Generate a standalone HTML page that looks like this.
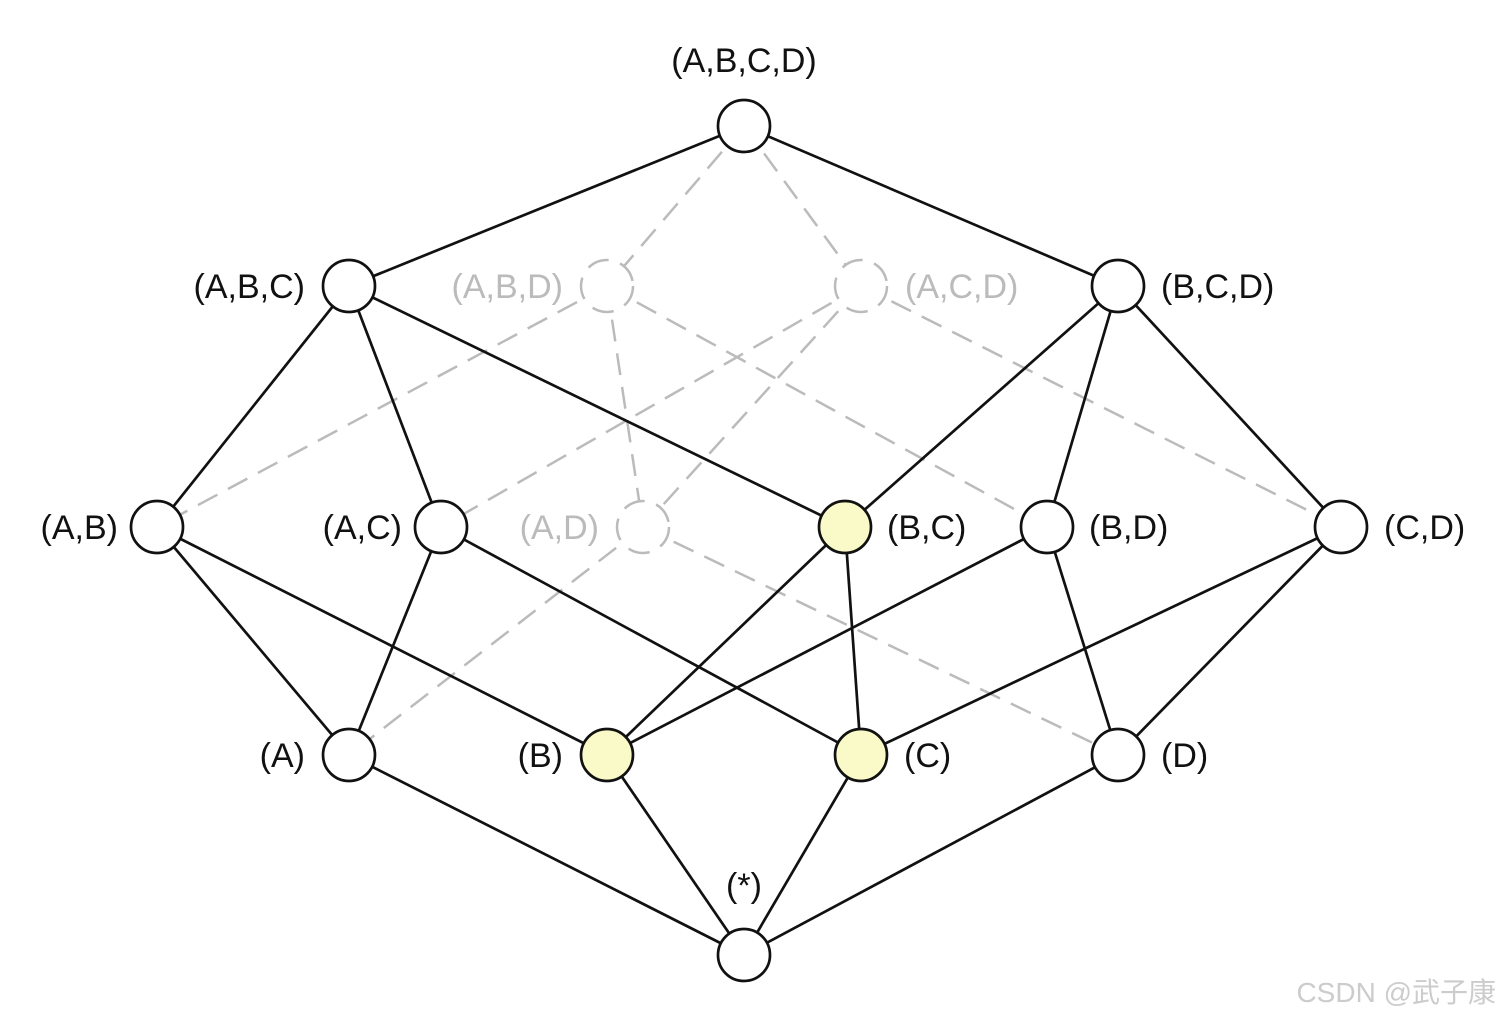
<!DOCTYPE html>
<html><head><meta charset="utf-8"><style>
html,body{margin:0;padding:0;background:#fff;}
svg{display:block;}
text{font-family:"Liberation Sans",sans-serif;font-size:34px;}
</style></head><body>
<svg width="1500" height="1018" viewBox="0 0 1500 1018" xmlns="http://www.w3.org/2000/svg">
<g stroke="#bbb" stroke-width="2.5" stroke-dasharray="22,12" fill="none">
<line x1="744" y1="126" x2="607" y2="286"/>
<line x1="744" y1="126" x2="861" y2="286"/>
<line x1="607" y1="286" x2="157" y2="527"/>
<line x1="607" y1="286" x2="643" y2="527"/>
<line x1="607" y1="286" x2="1047" y2="527"/>
<line x1="861" y1="286" x2="441" y2="527"/>
<line x1="861" y1="286" x2="643" y2="527"/>
<line x1="861" y1="286" x2="1341" y2="527"/>
<line x1="643" y1="527" x2="349" y2="755"/>
<line x1="643" y1="527" x2="1118" y2="755"/>
</g>
<g stroke="#111" stroke-width="2.7">
<line x1="744" y1="126" x2="349" y2="286"/>
<line x1="744" y1="126" x2="1118" y2="286"/>
<line x1="349" y1="286" x2="157" y2="527"/>
<line x1="349" y1="286" x2="441" y2="527"/>
<line x1="349" y1="286" x2="845" y2="527"/>
<line x1="1118" y1="286" x2="845" y2="527"/>
<line x1="1118" y1="286" x2="1047" y2="527"/>
<line x1="1118" y1="286" x2="1341" y2="527"/>
<line x1="157" y1="527" x2="349" y2="755"/>
<line x1="157" y1="527" x2="607" y2="755"/>
<line x1="441" y1="527" x2="349" y2="755"/>
<line x1="441" y1="527" x2="861" y2="755"/>
<line x1="845" y1="527" x2="607" y2="755"/>
<line x1="845" y1="527" x2="861" y2="755"/>
<line x1="1047" y1="527" x2="607" y2="755"/>
<line x1="1047" y1="527" x2="1118" y2="755"/>
<line x1="1341" y1="527" x2="861" y2="755"/>
<line x1="1341" y1="527" x2="1118" y2="755"/>
<line x1="349" y1="755" x2="744" y2="955"/>
<line x1="607" y1="755" x2="744" y2="955"/>
<line x1="861" y1="755" x2="744" y2="955"/>
<line x1="1118" y1="755" x2="744" y2="955"/>
</g>
<g stroke="#bbb" stroke-width="2.5" stroke-dasharray="22,12" fill="#fff">
<circle cx="607" cy="286" r="26"/>
<circle cx="861" cy="286" r="26"/>
<circle cx="643" cy="527" r="26"/>
</g>
<g stroke="#111" stroke-width="2.7" fill="#fff">
<circle cx="744" cy="126" r="26"/>
<circle cx="349" cy="286" r="26"/>
<circle cx="1118" cy="286" r="26"/>
<circle cx="157" cy="527" r="26"/>
<circle cx="441" cy="527" r="26"/>
<circle cx="845" cy="527" r="26" fill="#fafac8"/>
<circle cx="1047" cy="527" r="26"/>
<circle cx="1341" cy="527" r="26"/>
<circle cx="349" cy="755" r="26"/>
<circle cx="607" cy="755" r="26" fill="#fafac8"/>
<circle cx="861" cy="755" r="26" fill="#fafac8"/>
<circle cx="1118" cy="755" r="26"/>
<circle cx="744" cy="955" r="26"/>
</g>
<g fill="#111">
<text x="744" y="72" text-anchor="middle">(A,B,C,D)</text>
<text x="305" y="298" text-anchor="end">(A,B,C)</text>
<text x="1161" y="298">(B,C,D)</text>
<text x="118" y="539" text-anchor="end">(A,B)</text>
<text x="402" y="539" text-anchor="end">(A,C)</text>
<text x="887" y="539">(B,C)</text>
<text x="1089" y="539">(B,D)</text>
<text x="1384" y="539">(C,D)</text>
<text x="305" y="767" text-anchor="end">(A)</text>
<text x="563" y="767" text-anchor="end">(B)</text>
<text x="904" y="767">(C)</text>
<text x="1161" y="767">(D)</text>
<text x="744" y="897" text-anchor="middle">(*)</text>
</g>
<g fill="#bbb">
<text x="563" y="298" text-anchor="end">(A,B,D)</text>
<text x="905" y="298">(A,C,D)</text>
<text x="599" y="539" text-anchor="end">(A,D)</text>
</g>
<text x="1496" y="1002" text-anchor="end" fill="#ccc" style="font-family:'Liberation Sans','Noto Sans CJK SC',sans-serif;font-size:28px;">CSDN @武子康</text>
</svg>
</body></html>
